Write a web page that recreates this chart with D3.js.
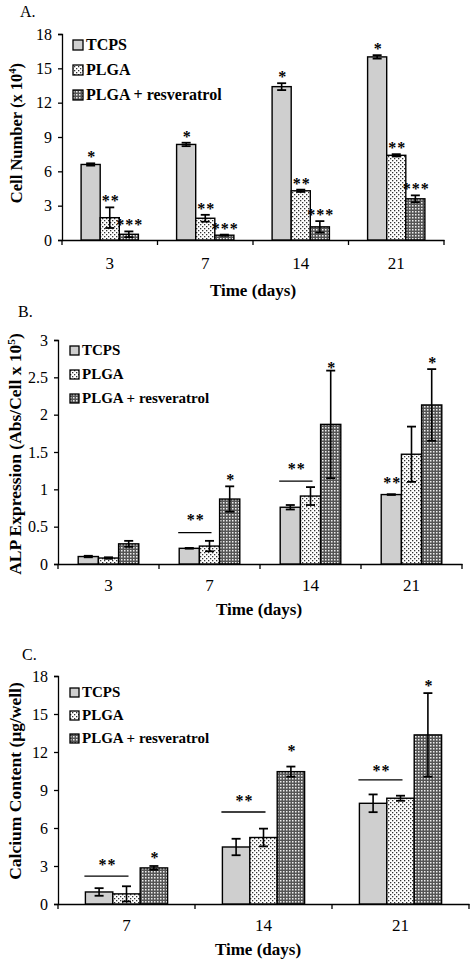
<!DOCTYPE html>
<html>
<head>
<meta charset="utf-8">
<script src="https://cdn.jsdelivr.net/npm/d3@7/dist/d3.min.js"></script>
<style>
  html, body { margin: 0; padding: 0; background: #fff; }
  svg { display: block; }
  .star { opacity: 0.99; }
</style>
</head>
<body>
<svg id="chart" width="473" height="962"></svg>
<script>
// ---------------- DATA ----------------
const seriesNames = ["TCPS", "PLGA", "PLGA + resveratrol"];

// Panel A: Cell number (x 10^4)
const daysA = ["3", "7", "14", "21"];
const tcpsA = [6.6, 8.35, 13.4, 16.0];
const tcpsAErr = [0.1, 0.15, 0.3, 0.15];
const plgaA = [1.95, 1.9, 4.3, 7.4];
const plgaAErr = [0.9, 0.3, 0.1, 0.1];
const resA = [0.5, 0.42, 1.15, 3.6];
const resAErr = [0.25, 0.05, 0.5, 0.3];
const starLabelsA = ["*", "**", "***"];
const ticksA = [0, 3, 6, 9, 12, 15, 18];

// Panel B: ALP expression (Abs/Cell x 10^5)
const daysB = ["3", "7", "14", "21"];
const tcpsB = [0.1, 0.21, 0.76, 0.93];
const tcpsBErr = [0.01, 0.005, 0.03, 0.005];
const plgaB = [0.08, 0.24, 0.91, 1.47];
const plgaBErr = [0.01, 0.07, 0.12, 0.37];
const resB = [0.27, 0.87, 1.87, 2.13];
const resBErr = [0.04, 0.17, 0.72, 0.48];
const ticksB = [0, 0.5, 1, 1.5, 2, 2.5, 3];
const starsB = [
  { day: "7", series: 2, label: "*", value: 1.17 },
  { day: "14", series: 2, label: "*", value: 2.66 },
  { day: "21", series: 2, label: "*", value: 2.73 },
  { day: "21", series: 0, label: "**", value: 1.12 }
];
const sigB = [
  { day: "7", line: 0.42, label: "**", value: 0.63 },
  { day: "14", line: 1.11, label: "**", value: 1.31 }
];

// Panel C: Calcium content (ug/well)
const daysC = ["7", "14", "21"];
const tcpsC = [0.95, 4.5, 7.95];
const tcpsCErr = [0.3, 0.65, 0.7];
const plgaC = [0.8, 5.25, 8.35];
const plgaCErr = [0.6, 0.7, 0.2];
const resC = [2.85, 10.45, 13.35];
const resCErr = [0.15, 0.4, 3.3];
const ticksC = [0, 3, 6, 9, 12, 15, 18];
const starsC = [
  { day: "7", series: 2, label: "*", value: 3.87 },
  { day: "14", series: 2, label: "*", value: 12.3 },
  { day: "21", series: 2, label: "*", value: 17.45 }
];
const sigC = [
  { day: "7", line: 2.2, label: "**", value: 3.3 },
  { day: "14", line: 7.26, label: "**", value: 8.37 },
  { day: "21", line: 9.8, label: "**", value: 10.7 }
];

// ---------------- DRAWING ----------------
const FONT = "'Liberation Serif', 'Times New Roman', serif";
const svg = d3.select("#chart");

const defs = svg.append("defs");
// PLGA pattern: white with small dark dots
const pPlga = defs.append("pattern").attr("id", "pat-plga")
  .attr("patternUnits", "userSpaceOnUse").attr("width", 4).attr("height", 4);
pPlga.append("rect").attr("width", 4).attr("height", 4).attr("fill", "#fff");
pPlga.append("rect").attr("x", 0).attr("y", 0).attr("width", 1.3).attr("height", 1.3).attr("fill", "#333");
pPlga.append("rect").attr("x", 2).attr("y", 2).attr("width", 1.3).attr("height", 1.3).attr("fill", "#333");
// Resveratrol pattern: dark with white holes
const pRes = defs.append("pattern").attr("id", "pat-res")
  .attr("patternUnits", "userSpaceOnUse").attr("width", 3).attr("height", 3);
pRes.append("rect").attr("width", 3).attr("height", 3).attr("fill", "#555");
pRes.append("rect").attr("x", 1).attr("y", 1).attr("width", 1.5).attr("height", 1.5).attr("fill", "#eee");

const fills = ["#cfcfcf", "url(#pat-plga)", "url(#pat-res)"];

function drawPanel(cfg) {
  const g = svg.append("g");
  const x = d3.scaleBand().domain(cfg.days).range([cfg.x0, cfg.x1]).padding(0);
  const y = d3.scaleLinear().domain([cfg.ticks[0], cfg.ticks[cfg.ticks.length - 1]]).range([cfg.yBottom, cfg.yTop]);
  const xs = d3.scaleBand().domain([0, 1, 2]).range([0.2 * x.bandwidth(), 0.8 * x.bandwidth()]).padding(0);

  // title
  g.append("text").attr("x", cfg.titleX).attr("y", cfg.titleY)
    .attr("font-family", FONT).attr("font-size", 16).text(cfg.title);

  // y axis
  const ya = g.append("g").attr("transform", `translate(${cfg.x0},0)`)
    .call(d3.axisLeft(y).tickValues(cfg.ticks).tickSize(4).tickPadding(6).tickFormat(d3.format("~g")));
  ya.selectAll("path, line").attr("stroke", "#000").attr("stroke-width", 1.3);
  ya.selectAll("text").attr("font-family", FONT).attr("font-size", 16).attr("fill", "#000");

  // x axis
  const xa = g.append("g").attr("transform", `translate(0,${cfg.yBottom})`)
    .call(d3.axisBottom(x).tickSize(0).tickPadding(cfg.xPad).tickSizeOuter(0));
  xa.selectAll("path").attr("stroke", "#000").attr("stroke-width", 1.3);
  xa.selectAll("text").attr("font-family", FONT).attr("font-size", 17).attr("fill", "#000");
  const bounds = cfg.days.map(d => x(d)).concat([x(cfg.days[cfg.days.length - 1]) + x.bandwidth()]);
  g.selectAll(null).data(bounds).enter().append("line")
    .attr("x1", d => d).attr("x2", d => d)
    .attr("y1", cfg.yBottom).attr("y2", cfg.yBottom + 5)
    .attr("stroke", "#000").attr("stroke-width", 1.3);

  // x label
  g.append("text").attr("x", cfg.xLabelX).attr("y", cfg.xLabelY)
    .attr("text-anchor", "middle").attr("font-family", FONT).attr("font-weight", "bold")
    .attr("font-size", 17).text("Time (days)");

  // y label
  const yl = g.append("text")
    .attr("transform", `translate(${cfg.yLabelX},${cfg.yLabelY}) rotate(-90)`)
    .attr("text-anchor", "middle").attr("font-family", FONT).attr("font-weight", "bold")
    .attr("font-size", cfg.yLabelSize);
  cfg.yLabel.forEach(part => {
    const t = yl.append("tspan").text(part.t);
    if (part.sup) t.attr("baseline-shift", "super").attr("font-size", cfg.yLabelSize * 0.65);
  });

  // bars
  const rows = [];
  cfg.series.forEach((s, si) => {
    cfg.days.forEach((d, di) => {
      rows.push({ si, d, v: s.values[di], e: s.errs[di] });
    });
  });
  g.selectAll(null).data(rows).enter().append("rect")
    .attr("x", r => x(r.d) + xs(r.si))
    .attr("y", r => y(r.v))
    .attr("width", xs.bandwidth())
    .attr("height", r => y(0) - y(r.v))
    .attr("fill", r => fills[r.si])
    .attr("stroke", "#000").attr("stroke-width", 1.4);

  // error bars
  const cap = 4.5;
  const eg = g.selectAll(null).data(rows).enter().append("g")
    .attr("transform", r => `translate(${x(r.d) + xs(r.si) + xs.bandwidth() / 2},0)`);
  eg.append("line").attr("x1", 0).attr("x2", 0)
    .attr("y1", r => y(r.v - r.e)).attr("y2", r => y(r.v + r.e))
    .attr("stroke", "#000").attr("stroke-width", 1.6);
  eg.append("line").attr("x1", -cap).attr("x2", cap)
    .attr("y1", r => y(r.v + r.e)).attr("y2", r => y(r.v + r.e))
    .attr("stroke", "#000").attr("stroke-width", 1.8);
  eg.append("line").attr("x1", -cap).attr("x2", cap)
    .attr("y1", r => y(r.v - r.e)).attr("y2", r => y(r.v - r.e))
    .attr("stroke", "#000").attr("stroke-width", 1.8);

  // stars
  const starText = (sel) => sel.attr("class", "star").attr("text-anchor", "middle").attr("font-family", FONT)
    .attr("font-weight", "bold").attr("font-size", 16).attr("letter-spacing", 1).attr("fill", "#000");
  if (cfg.starLabels) {
    g.selectAll(null).data(rows).enter().append("text")
      .attr("x", r => x(r.d) + xs(r.si) + xs.bandwidth() / 2 + 1)
      .attr("y", r => y(r.v + r.e) - 9 + 8)
      .call(starText)
      .text(r => cfg.starLabels[r.si]);
  }
  if (cfg.stars) {
    g.selectAll(null).data(cfg.stars).enter().append("text")
      .attr("x", s => x(s.day) + xs(s.series) + xs.bandwidth() / 2 + 1)
      .attr("y", s => y(s.value) + 8)
      .call(starText)
      .text(s => s.label);
  }
  if (cfg.sig) {
    cfg.sig.forEach(s => {
      const xa1 = x(s.day) + xs(0) - 1;
      const xa2 = x(s.day) + xs(1) + xs.bandwidth() / 2 + 2;
      g.append("line").attr("x1", xa1).attr("x2", xa2)
        .attr("y1", y(s.line)).attr("y2", y(s.line))
        .attr("stroke", "#000").attr("stroke-width", 1.4);
      g.append("text").attr("x", (xa1 + xa2) / 2 + 1).attr("y", y(s.value) + 8)
        .call(starText).text(s.label);
    });
  }

  // legend
  const lg = g.append("g");
  seriesNames.forEach((n, i) => {
    const by = cfg.legY + i * cfg.legStep;
    lg.append("rect").attr("x", cfg.legX).attr("y", by - cfg.legBox)
      .attr("width", cfg.legBox).attr("height", cfg.legBox)
      .attr("fill", fills[i]).attr("stroke", "#000").attr("stroke-width", 1.3);
    lg.append("text").attr("x", cfg.legX + cfg.legBox + 3).attr("y", by)
      .attr("font-family", FONT).attr("font-weight", "bold").attr("font-size", cfg.legFont)
      .text(n);
  });
}

drawPanel({
  title: "A.", titleX: 20, titleY: 17,
  days: daysA, ticks: ticksA, x0: 62, x1: 444, yTop: 34, yBottom: 240, xPad: 17,
  series: [
    { values: tcpsA, errs: tcpsAErr },
    { values: plgaA, errs: plgaAErr },
    { values: resA, errs: resAErr }
  ],
  starLabels: starLabelsA,
  xLabelX: 253, xLabelY: 296,
  yLabel: [{ t: "Cell Number (x 10" }, { t: "4", sup: true }, { t: ")" }],
  yLabelX: 22, yLabelY: 133, yLabelSize: 16.5,
  legX: 73, legY: 50, legStep: 25, legBox: 10, legFont: 16
});

drawPanel({
  title: "B.", titleX: 18, titleY: 317,
  days: daysB, ticks: ticksB, x0: 58, x1: 462, yTop: 340, yBottom: 564, xPad: 15,
  series: [
    { values: tcpsB, errs: tcpsBErr },
    { values: plgaB, errs: plgaBErr },
    { values: resB, errs: resBErr }
  ],
  stars: starsB, sig: sigB,
  xLabelX: 259, xLabelY: 615,
  yLabel: [{ t: "ALP Expression (Abs/Cell x 10" }, { t: "5", sup: true }, { t: ")" }],
  yLabelX: 21, yLabelY: 454, yLabelSize: 17.5,
  legX: 70, legY: 355, legStep: 24, legBox: 9, legFont: 15
});

drawPanel({
  title: "C.", titleX: 22, titleY: 660,
  days: daysC, ticks: ticksC, x0: 58, x1: 469, yTop: 676, yBottom: 904, xPad: 15,
  series: [
    { values: tcpsC, errs: tcpsCErr },
    { values: plgaC, errs: plgaCErr },
    { values: resC, errs: resCErr }
  ],
  stars: starsC, sig: sigC,
  xLabelX: 258, xLabelY: 955,
  yLabel: [{ t: "Calcium Content (μg/well)" }],
  yLabelX: 21, yLabelY: 781, yLabelSize: 17.5,
  legX: 70, legY: 697, legStep: 23, legBox: 9, legFont: 15
});
</script>
</body>
</html>
